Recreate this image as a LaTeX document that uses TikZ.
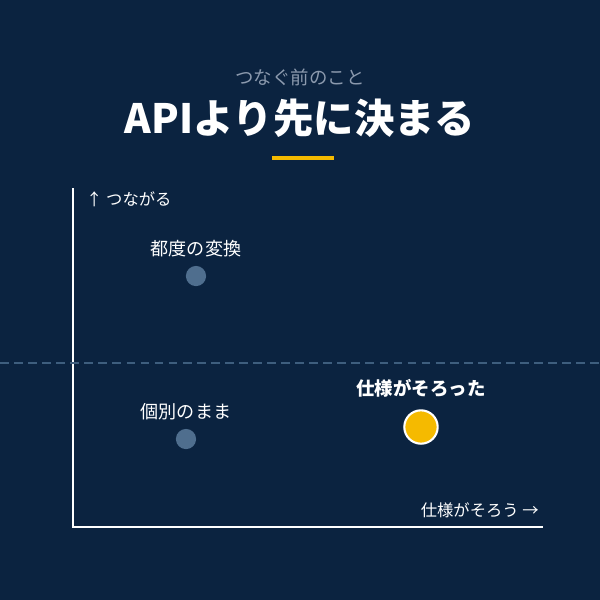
\documentclass[tikz,border=0pt]{standalone}
\usepackage{fontspec}
\setmainfont{Noto Sans CJK JP}
\usetikzlibrary{positioning}
\definecolor{navy}{HTML}{0B2340}
\definecolor{dotblue}{HTML}{4F6E8E}
\definecolor{gold}{HTML}{F5BA00}
\definecolor{subgray}{HTML}{8C9AAE}
\definecolor{dashblue}{HTML}{3E5E7E}
\begin{document}
\begin{tikzpicture}[x=0.02cm,y=-0.02cm,
    lbl/.style={text=white, font=\fontsize{10.3}{12}\selectfont},
    pt/.style={circle, fill=dotblue, minimum size=11.5pt, inner sep=0pt},
    axis/.style={draw=white, line width=1.1pt}
]
\fill[navy] (0,0) rectangle (600,600);
\useasboundingbox (0,0) rectangle (600,600);

% Title
\node[text=subgray, font=\fontsize{10.5}{12}\selectfont] (sub) at (300,77) {つなぐ前のこと};
\node[text=white, font=\fontsize{23}{27}\selectfont\bfseries] (title) at (300,118) {APIより先に決まる};
\coordinate (ul) at (272,158);
\coordinate (ur) at (334,158);
\draw[gold, line width=1.8pt] (ul) -- (ur);

% Axes
\coordinate (top) at (73,188);
\coordinate (origin) at (73,527);
\coordinate (right) at (543,527);
\draw[axis] (top) -- (origin) -- (right);
\node[lbl, font=\fontsize{9.3}{11}\selectfont, anchor=west] (ylab) at (80,199) {↑ つながる};
\node[lbl, font=\fontsize{9.3}{11}\selectfont, anchor=east] (xlab) at (545,510) {仕様がそろう →};

% Divider
\coordinate (dl) at (0,363);
\coordinate (dr) at (600,363);
\draw[dashblue, dashed, line width=0.6pt, dash pattern=on 5pt off 3pt] (dl) -- (dr);

% Points
\node[pt] (conv) at (196,276) {};
\node[lbl, above=1.5pt of conv] {都度の変換};
\node[pt] (indiv) at (186,439) {};
\node[lbl, above=1.5pt of indiv] {個別のまま};
\node[circle, fill=gold, draw=white, line width=1.2pt, minimum size=19pt, inner sep=0pt] (spec) at (421,427) {};
\node[lbl, font=\fontsize{10.5}{12}\selectfont\bfseries, above=3pt of spec] {仕様がそろった};
\end{tikzpicture}
\end{document}
